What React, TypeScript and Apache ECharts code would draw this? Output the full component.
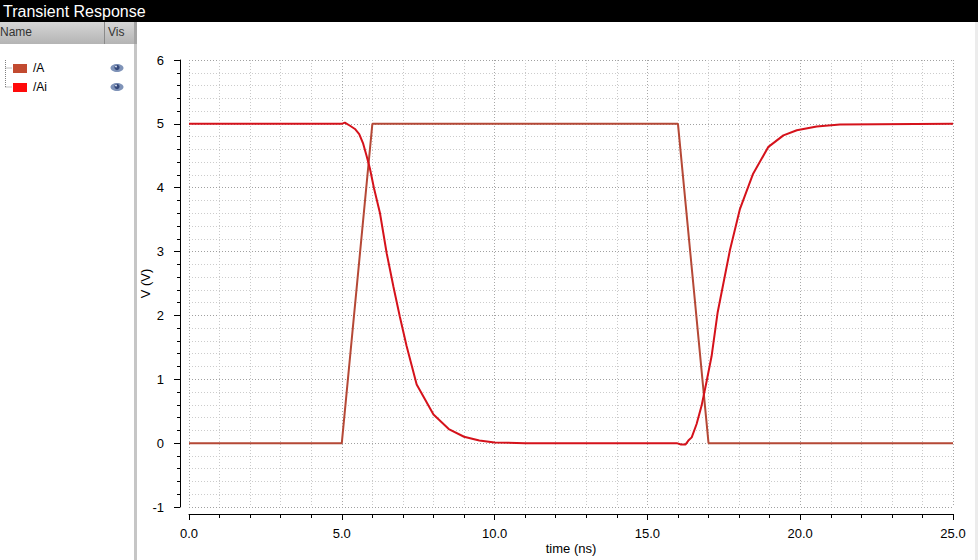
import React, { useEffect, useRef } from "react";
import * as echarts from "echarts";

// ---- data ----
const seriesNames = ["/A", "/Ai"];
const aTime = [0, 5, 6, 16, 17, 25];
const aVolt = [0, 0, 5, 5, 0, 0];
const aiTime = [
  0, 5.0, 5.1, 5.27, 5.43, 5.57, 5.7, 5.81, 5.92, 6.05, 6.25, 6.47, 6.69, 6.9,
  7.12, 7.45, 8.0, 8.5, 9.0, 9.5, 10.0, 11.0, 15.96, 16.1, 16.25, 16.34, 16.45,
  16.61, 16.77, 16.93, 17.1, 17.3, 17.7, 18.03, 18.46, 18.96, 19.45, 19.89,
  20.54, 21.3, 25,
];
const aiVolt = [
  5, 5, 5.02, 4.97, 4.92, 4.84, 4.69, 4.5, 4.3, 4.0, 3.6, 2.97, 2.45, 1.98,
  1.52, 0.92, 0.45, 0.22, 0.1, 0.04, 0.01, 0, 0, -0.02, -0.02, 0.04, 0.09, 0.3,
  0.58, 0.95, 1.36, 2.05, 3.02, 3.67, 4.22, 4.64, 4.82, 4.9, 4.96, 4.99, 5,
];
const xRange = [0, 25];
const xStep = 5;
const yRange = [-1, 6];
const yStep = 1;

const lineColors = ["#b54836", "#d5121b"];
const swatchColors = ["#c24a30", "#ff0a0a"];
const FONT = "'Liberation Sans', Arial, sans-serif";

export default function App() {
  const ref = useRef<HTMLDivElement>(null);
  useEffect(() => {
    if (!ref.current) return;
    const chart = echarts.init(ref.current, undefined, { renderer: "svg" });

    const legendGraphics: any[] = [];
    seriesNames.forEach((name, i) => {
      const cy = 68 + i * 19;
      legendGraphics.push(
        {
          type: "line",
          shape: { x1: 5.5, y1: cy, x2: 12, y2: cy },
          style: { stroke: "#808080", lineWidth: 1, lineDash: [1, 1] },
        },
        {
          type: "rect",
          shape: { x: 13, y: cy - 4, width: 14, height: 9 },
          style: { fill: swatchColors[i] },
        },
        {
          type: "text",
          x: 33,
          y: cy,
          style: {
            text: name,
            fill: "#000",
            font: `12px ${FONT}`,
            verticalAlign: "middle",
          },
        },
        {
          type: "ellipse",
          shape: { cx: 117, cy: cy, rx: 6.5, ry: 4 },
          style: { fill: "#7f93b8" },
        },
        {
          type: "circle",
          shape: { cx: 117, cy: cy - 0.5, r: 2.6 },
          style: { fill: "#34487a" },
        },
        {
          type: "circle",
          shape: { cx: 116, cy: cy - 1.5, r: 0.9 },
          style: { fill: "#dfe6f2" },
        }
      );
    });

    const option: any = {
      animation: false,
      backgroundColor: "#ffffff",
      grid: { left: 189, right: 25, top: 60, bottom: 43, containLabel: false },
      xAxis: {
        type: "value",
        min: xRange[0],
        max: xRange[1],
        interval: xStep,
        offset: 7,
        name: "time (ns)",
        nameLocation: "middle",
        nameGap: 28,
        nameMoveOverlap: false,
        nameTextStyle: { color: "#000", fontSize: 13, fontFamily: FONT },
        axisLine: { show: true, onZero: false, lineStyle: { color: "#000", width: 1 } },
        axisTick: { show: true, length: 6, lineStyle: { color: "#000" } },
        minorTick: { show: true, splitNumber: 5, length: 4, lineStyle: { color: "#000" } },
        axisLabel: {
          color: "#000",
          fontSize: 13,
          fontFamily: FONT,
          margin: 13,
          formatter: (v: number) => v.toFixed(1),
        },
        splitLine: { show: true, lineStyle: { type: [1, 2], color: "#a8a8a8" } },
        minorSplitLine: { show: true, lineStyle: { type: [1, 2], color: "#c8c8c8" } },
      },
      yAxis: {
        type: "value",
        min: yRange[0],
        max: yRange[1],
        interval: yStep,
        offset: 9,
        name: "V (V)",
        nameLocation: "middle",
        nameRotate: 90,
        nameGap: 28,
        nameMoveOverlap: false,
        nameTextStyle: { color: "#000", fontSize: 13, fontFamily: FONT },
        axisLine: { show: true, onZero: false, lineStyle: { color: "#000", width: 1 } },
        axisTick: { show: true, length: 6, lineStyle: { color: "#000" } },
        minorTick: { show: true, splitNumber: 5, length: 3, lineStyle: { color: "#000" } },
        axisLabel: { color: "#000", fontSize: 13, fontFamily: FONT, margin: 16 },
        splitLine: { show: true, lineStyle: { type: [1, 2], color: "#a0a0a0" } },
        minorSplitLine: { show: true, lineStyle: { type: [1, 2], color: "#cccccc" } },
      },
      series: [
        {
          name: seriesNames[0],
          type: "line",
          showSymbol: false,
          data: aTime.map((t, i) => [t, aVolt[i]]),
          lineStyle: { color: lineColors[0], width: 2 },
          itemStyle: { color: lineColors[0] },
          z: 2,
        },
        {
          name: seriesNames[1],
          type: "line",
          showSymbol: false,
          data: aiTime.map((t, i) => [t, aiVolt[i]]),
          lineStyle: { color: lineColors[1], width: 2 },
          itemStyle: { color: lineColors[1] },
          z: 3,
        },
      ],
      graphic: [
        {
          type: "rect",
          shape: { x: 0, y: 0, width: 978, height: 22 },
          style: { fill: "#000" },
        },
        {
          type: "text",
          x: 3,
          y: 11,
          style: {
            text: "Transient Response",
            fill: "#fff",
            font: `16px ${FONT}`,
            verticalAlign: "middle",
          },
        },
        {
          type: "rect",
          shape: { x: 0, y: 22, width: 137, height: 22 },
          style: {
            fill: new echarts.graphic.LinearGradient(0, 0, 0, 1, [
              { offset: 0, color: "#d6d6d6" },
              { offset: 1, color: "#b4b4b4" },
            ]),
          },
        },
        {
          type: "text",
          x: 0,
          y: 32,
          style: { text: "Name", fill: "#333", font: `12px ${FONT}`, verticalAlign: "middle" },
        },
        {
          type: "line",
          shape: { x1: 104.5, y1: 22, x2: 104.5, y2: 44 },
          style: { stroke: "#8a8a8a", lineWidth: 1 },
        },
        {
          type: "text",
          x: 108,
          y: 32,
          style: { text: "Vis", fill: "#333", font: `12px ${FONT}`, verticalAlign: "middle" },
        },
        {
          type: "rect",
          shape: { x: 134, y: 22, width: 3, height: 538 },
          style: { fill: "#c6c6c6" },
        },
        {
          type: "rect",
          shape: { x: 134, y: 22, width: 3, height: 22 },
          style: { fill: "#a4a4a4" },
        },
        {
          type: "rect",
          shape: { x: 975, y: 22, width: 3, height: 538 },
          style: { fill: "#ececec" },
        },
        {
          type: "line",
          shape: { x1: 5.5, y1: 60, x2: 5.5, y2: 87 },
          style: { stroke: "#808080", lineWidth: 1, lineDash: [1, 1] },
        },
        ...legendGraphics,
      ],
    };
    chart.setOption(option);
    return () => chart.dispose();
  }, []);

  return (
    <div
      style={{
        position: "fixed",
        left: 0,
        top: 0,
        width: 978,
        height: 560,
        background: "#fff",
      }}
    >
      <div ref={ref} style={{ width: 978, height: 560 }} />
    </div>
  );
}
